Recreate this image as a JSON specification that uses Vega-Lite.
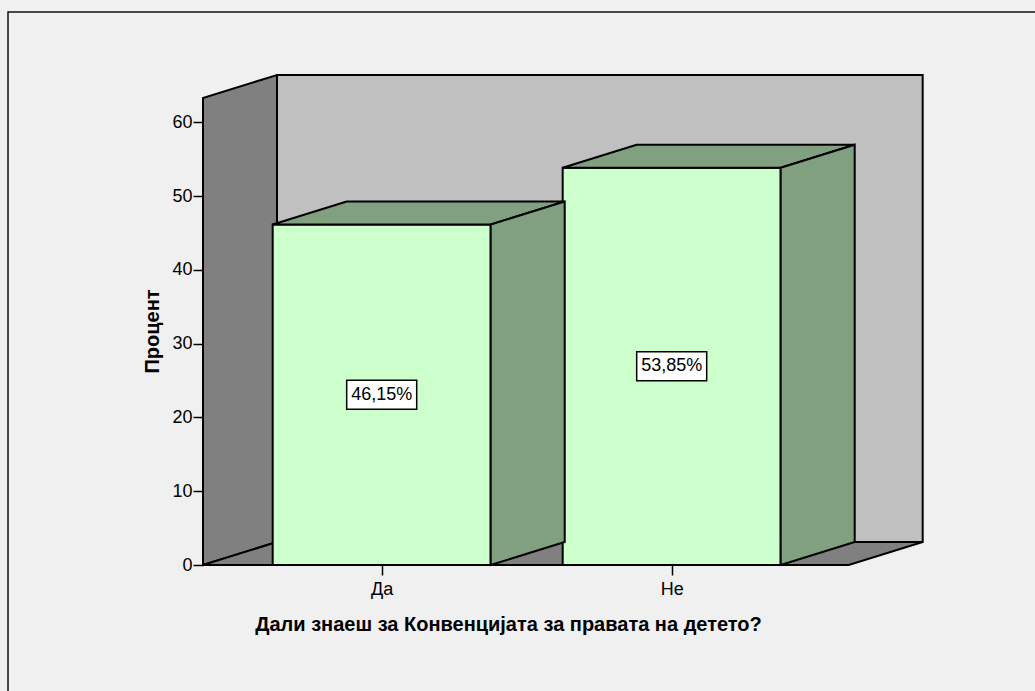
{
  "$schema": "https://vega.github.io/schema/vega-lite/v6.json",
  "width": 720,
  "height": 490,
  "autosize": {"type": "none"},
  "padding": {"left": 203, "top": 75, "right": 112, "bottom": 126},
  "background": "#f0f0f0",
  "config": {
    "view": {"stroke": null},
    "font": "Liberation Sans",
    "axis": {"grid": false, "domain": false, "tickColor": "black", "labelColor": "black", "titleColor": "black"}
  },
  "datasets": {
    "answers": [
      {"answer": "Да", "percent": 46.15},
      {"answer": "Не", "percent": 53.85}
    ]
  },
  "layer": [
    {
      "data": {"name": "answers"},
      "transform": [
        {"aggregate": [{"op": "count", "as": "n"}]}
      ],
      "mark": {"type": "rect", "fill": null, "fillOpacity": 0, "stroke": "#111111", "strokeWidth": 1.5, "clip": false},
      "encoding": {
        "x": {"datum": -1.2886, "type": "quantitative", "scale": {"domain": [-0.6162, 1.8666], "nice": false, "zero": false}},
        "x2": {"datum": 2.6},
        "y": {"datum": 74.95, "type": "quantitative", "scale": {"domain": [0, 66.41], "nice": false, "zero": false}},
        "y2": {"datum": -20}
      }
    },
    {
      "data": {"name": "answers"},
      "transform": [
        {"calculate": "[0, 1]", "as": "edge"},
        {"flatten": ["edge"]},
        {"aggregate": [{"op": "count", "as": "n"}], "groupby": ["edge"]},
        {"calculate": "-0.6162 + datum.edge * 0.2552", "as": "wx"},
        {"calculate": "1.6103 + datum.edge * 0.2552", "as": "wx2"},
        {"calculate": "datum.edge * 3.117", "as": "wy"},
        {"calculate": "63.29 + datum.edge * 3.117", "as": "wy2"}
      ],
      "layer": [
        {
          "transform": [{"filter": "datum.edge == 1"}],
          "mark": {"type": "rect", "fill": "#c0c0c0", "stroke": "black", "strokeWidth": 2},
          "encoding": {
            "x": {"field": "wx", "type": "quantitative", "scale": {"domain": [-0.6162, 1.8666], "nice": false, "zero": false}},
            "x2": {"field": "wx2"},
            "y": {"field": "wy", "type": "quantitative", "scale": {"domain": [0, 66.41], "nice": false, "zero": false}},
            "y2": {"field": "wy2"}
          }
        },
        {
          "mark": {"type": "area", "orient": "vertical", "fill": "#808080", "stroke": "black", "strokeWidth": 2, "opacity": 1},
          "encoding": {
            "x": {"field": "wx", "type": "quantitative", "scale": {"domain": [-0.6162, 1.8666], "nice": false, "zero": false}},
            "y": {"field": "wy", "type": "quantitative", "scale": {"domain": [0, 66.41], "nice": false, "zero": false}},
            "y2": {"field": "wy2"}
          }
        },
        {
          "mark": {"type": "area", "orient": "horizontal", "fill": "#808080", "stroke": "black", "strokeWidth": 2, "opacity": 1},
          "encoding": {
            "y": {"field": "wy", "type": "quantitative", "scale": {"domain": [0, 66.41], "nice": false, "zero": false}},
            "x": {"field": "wx", "type": "quantitative", "scale": {"domain": [-0.6162, 1.8666], "nice": false, "zero": false}},
            "x2": {"field": "wx2"}
          }
        }
      ]
    },
    {
      "data": {"name": "answers"},
      "transform": [
        {"window": [{"op": "row_number", "as": "rn"}]},
        {"calculate": "datum.rn - 1", "as": "c"}
      ],
      "layer": [
        {
          "transform": [
            {"calculate": "datum.c - 0.3759", "as": "fx1"},
            {"calculate": "datum.c + 0.3759", "as": "fx2"},
            {"calculate": "0", "as": "base"}
          ],
          "mark": {"type": "rect", "fill": "#ccffcc", "stroke": "black", "strokeWidth": 2},
          "encoding": {
            "x": {"field": "fx1", "type": "quantitative", "scale": {"domain": [-0.6162, 1.8666], "nice": false, "zero": false}},
            "x2": {"field": "fx2"},
            "y": {"field": "base", "type": "quantitative", "scale": {"domain": [0, 66.41], "nice": false, "zero": false}},
            "y2": {"field": "percent"}
          }
        },
        {
          "transform": [
            {"calculate": "[0, 1]", "as": "edge"},
            {"flatten": ["edge"]},
            {"calculate": "datum.c - 0.3759 + datum.edge * 0.2552", "as": "tx1"},
            {"calculate": "datum.c + 0.3759 + datum.edge * 0.2552", "as": "tx2"},
            {"calculate": "datum.percent + datum.edge * 3.117", "as": "ty"}
          ],
          "mark": {"type": "area", "orient": "horizontal", "fill": "#80a080", "stroke": "black", "strokeWidth": 2, "opacity": 1},
          "encoding": {
            "detail": {"field": "answer"},
            "y": {"field": "ty", "type": "quantitative", "scale": {"domain": [0, 66.41], "nice": false, "zero": false}},
            "x": {"field": "tx1", "type": "quantitative", "scale": {"domain": [-0.6162, 1.8666], "nice": false, "zero": false}},
            "x2": {"field": "tx2"}
          }
        },
        {
          "transform": [
            {"calculate": "[0, 1]", "as": "edge"},
            {"flatten": ["edge"]},
            {"calculate": "datum.c + 0.3759 + datum.edge * 0.2552", "as": "sx"},
            {"calculate": "datum.edge * 3.117", "as": "sy1"},
            {"calculate": "datum.percent + datum.edge * 3.117", "as": "sy2"}
          ],
          "mark": {"type": "area", "orient": "vertical", "fill": "#80a080", "stroke": "black", "strokeWidth": 2, "opacity": 1},
          "encoding": {
            "detail": {"field": "answer"},
            "x": {"field": "sx", "type": "quantitative", "scale": {"domain": [-0.6162, 1.8666], "nice": false, "zero": false}},
            "y": {"field": "sy1", "type": "quantitative", "scale": {"domain": [0, 66.41], "nice": false, "zero": false}},
            "y2": {"field": "sy2"}
          }
        },
        {
          "transform": [
            {"calculate": "datum.c - 0.1207", "as": "bx1"},
            {"calculate": "datum.c + 0.1207", "as": "bx2"},
            {"calculate": "datum.percent / 2 - 1.97", "as": "by1"},
            {"calculate": "datum.percent / 2 + 1.97", "as": "by2"}
          ],
          "mark": {"type": "rect", "fill": "white", "stroke": "black", "strokeWidth": 1.5},
          "encoding": {
            "x": {"field": "bx1", "type": "quantitative", "scale": {"domain": [-0.6162, 1.8666], "nice": false, "zero": false}},
            "x2": {"field": "bx2"},
            "y": {"field": "by1", "type": "quantitative", "scale": {"domain": [0, 66.41], "nice": false, "zero": false}},
            "y2": {"field": "by2"}
          }
        }
      ]
    },
    {
      "data": {"name": "answers"},
      "transform": [
        {"window": [{"op": "row_number", "as": "rn"}]},
        {"calculate": "datum.rn - 1", "as": "c"},
        {"calculate": "replace(format(datum.percent, '.2f'), '.', ',') + '%'", "as": "lbl"},
        {"calculate": "datum.percent / 2", "as": "my"}
      ],
      "mark": {"type": "text", "fontSize": 18, "font": "Liberation Sans", "color": "black", "align": "center", "baseline": "middle"},
      "encoding": {
        "x": {
          "field": "c", "type": "quantitative",
          "scale": {"domain": [-0.6162, 1.8666], "nice": false, "zero": false},
          "axis": {
            "values": [0, 1],
            "labelExpr": "datum.value == 0 ? 'Да' : 'Не'",
            "domain": false, "grid": false, "zindex": 2,
            "tickSize": 10, "tickWidth": 1.5, "tickColor": "black",
            "labelFontSize": 18, "labelColor": "black", "labelPadding": 5,
            "labelFont": "Liberation Sans",
            "title": "Дали знаеш за Конвенцијата за правата на детето?",
            "titleFont": "Liberation Sans",
            "titleFontSize": 20, "titleFontWeight": "bold", "titleColor": "black",
            "titleX": 305, "titleY": 65, "titleBaseline": "alphabetic", "titleAlign": "center"
          }
        },
        "y": {
          "field": "my", "type": "quantitative",
          "scale": {"domain": [0, 66.41], "nice": false, "zero": false},
          "axis": {
            "values": [0, 10, 20, 30, 40, 50, 60],
            "domain": false, "grid": false, "zindex": 2,
            "tickSize": 10, "tickWidth": 1.5, "tickColor": "black",
            "labelFontSize": 18, "labelColor": "black", "labelPadding": 1,
            "labelFont": "Liberation Sans",
            "title": "Процент",
            "titleFont": "Liberation Sans",
            "titleFontSize": 20, "titleFontWeight": "bold", "titleColor": "black",
            "titleAngle": 270, "titleX": -45, "titleY": 256, "titleBaseline": "alphabetic", "titleAlign": "center"
          }
        },
        "text": {"field": "lbl"}
      }
    }
  ]
}
